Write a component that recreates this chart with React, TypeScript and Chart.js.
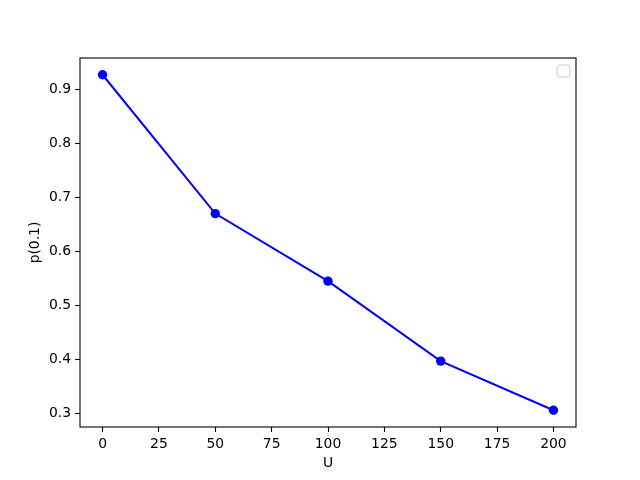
import React, { useEffect, useRef } from "react";
import { Chart, registerables } from "chart.js";

Chart.register(...registerables);

const uValues = [0, 50, 100, 150, 200];
const pValues = [0.927, 0.670, 0.545, 0.397, 0.306];
const xTicks = [0, 25, 50, 75, 100, 125, 150, 175, 200];
const yTicks = [0.3, 0.4, 0.5, 0.6, 0.7, 0.8, 0.9];

const FONT = "'DejaVu Sans', sans-serif";

const framePlugin = {
  id: "frame",
  afterDraw(chart: any) {
    const { ctx, chartArea } = chart;
    const { left, top, right, bottom } = chartArea;
    ctx.save();
    ctx.strokeStyle = "#000";
    ctx.lineWidth = 1.1;
    ctx.strokeRect(left, top, right - left, bottom - top);
    // empty legend box (upper right)
    const w = 13, h = 12, r = 3;
    const x = right - 6 - w, y = top + 7;
    ctx.beginPath();
    ctx.moveTo(x + r, y);
    ctx.lineTo(x + w - r, y);
    ctx.arcTo(x + w, y, x + w, y + r, r);
    ctx.lineTo(x + w, y + h - r);
    ctx.arcTo(x + w, y + h, x + w - r, y + h, r);
    ctx.lineTo(x + r, y + h);
    ctx.arcTo(x, y + h, x, y + h - r, r);
    ctx.lineTo(x, y + r);
    ctx.arcTo(x, y, x + r, y, r);
    ctx.closePath();
    ctx.fillStyle = "rgba(255,255,255,0.8)";
    ctx.fill();
    ctx.strokeStyle = "#cccccc";
    ctx.lineWidth = 1;
    ctx.stroke();
    ctx.restore();
  },
};

export default function App() {
  const ref = useRef<HTMLCanvasElement>(null);
  useEffect(() => {
    if (!ref.current) return;
    const chart = new Chart(ref.current, {
      type: "line",
      data: {
        datasets: [
          {
            data: uValues.map((u, i) => ({ x: u, y: pValues[i] })),
            borderColor: "#0000ff",
            backgroundColor: "#0000ff",
            borderWidth: 2,
            pointRadius: 4.7,
            pointHoverRadius: 4.7,
            pointBorderWidth: 0,
            tension: 0,
          },
        ],
      },
      options: {
        animation: false,
        responsive: false,
        layout: { padding: { left: 0, top: 58, right: 64, bottom: 0 } },
        plugins: { legend: { display: false }, tooltip: { enabled: false } },
        scales: {
          x: {
            type: "linear",
            min: -10,
            max: 210,
            afterBuildTicks: (s: any) => {
              s.ticks = xTicks.map((v) => ({ value: v }));
            },
            afterFit: (s: any) => {
              s.height = 53;
            },
            border: { display: false },
            grid: {
              drawOnChartArea: false,
              drawTicks: true,
              tickLength: 5,
              tickColor: "#000",
              tickWidth: 1.1,
            },
            ticks: {
              color: "#000",
              padding: 4,
              maxRotation: 0,
              autoSkip: false,
              font: { family: FONT, size: 13.9 },
              callback: (v: any) => String(v),
            },
            title: {
              display: true,
              text: "U",
              color: "#000",
              font: { family: FONT, size: 13.9 },
              padding: { top: 0, bottom: 8 },
            },
          },
          y: {
            type: "linear",
            min: 0.275,
            max: 0.958,
            afterBuildTicks: (s: any) => {
              s.ticks = yTicks.map((v) => ({ value: v }));
            },
            afterFit: (s: any) => {
              s.width = 80;
            },
            border: { display: false },
            grid: {
              drawOnChartArea: false,
              drawTicks: true,
              tickLength: 5,
              tickColor: "#000",
              tickWidth: 1.1,
            },
            ticks: {
              color: "#000",
              padding: 4,
              autoSkip: false,
              font: { family: FONT, size: 13.9 },
              callback: (v: any) => Number(v).toFixed(1),
            },
            title: {
              display: true,
              text: "p(0.1)",
              color: "#000",
              font: { family: FONT, size: 13.9 },
              padding: { top: 27, bottom: 0 },
            },
          },
        },
      },
      plugins: [framePlugin],
    });
    return () => chart.destroy();
  }, []);
  return (
    <div style={{ position: "absolute", left: 0, top: 0, width: 640, height: 480, background: "#fff" }}>
      <canvas ref={ref} width={640} height={480} style={{ width: 640, height: 480 }} />
    </div>
  );
}
